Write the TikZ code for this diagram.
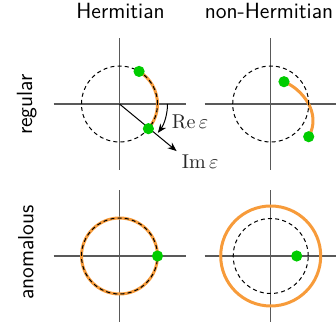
\documentclass[tikz,border=0pt]{standalone}
\usepackage{fontspec}
\usetikzlibrary{arrows.meta}
\definecolor{myorange}{RGB}{247,155,58}
\definecolor{mygreen}{RGB}{0,204,0}
\begin{document}
\begin{tikzpicture}[x=0.5pt,y=0.5pt,
  axis/.style={draw=black!65, line width=0.6pt},
  dcirc/.style={draw=black, dash pattern=on 2pt off 1.6pt, line width=0.5pt},
  orng/.style={draw=myorange, line width=1.5pt},
  gdot/.style={circle, fill=mygreen, inner sep=0pt, minimum size=5.6pt},
  lab/.style={font=\sffamily\fontsize{11}{13}\selectfont, inner sep=0pt},
  mlab/.style={text=black!85, inner sep=0pt, anchor=west},
  arr/.style={draw=black, line width=0.5pt, -{Stealth[length=4.5pt,width=3.6pt]}}]
\useasboundingbox (0,0) rectangle (336,325);
% centres
\coordinate (TL) at (119.5,221);
\coordinate (TR) at (270.7,221);
\coordinate (BL) at (119.5,69);
\coordinate (BR) at (270.7,69);
% axes
\foreach \c in {TL,TR,BL,BR}{
  \draw[axis] ([xshift=-33pt]\c) -- ([xshift=33pt]\c);
  \draw[axis] ([yshift=-33pt]\c) -- ([yshift=33pt]\c);
}
% titles
\node[lab, anchor=base] (h) at (120.5,306.7) {Hermitian};
\node[lab, anchor=base] (nh) at (269,306.7) {non-Hermitian};
\node[lab, anchor=base, rotate=90] (reg) at (32,220.5) {regular};
\node[lab, anchor=base, rotate=90] (ano) at (33.3,72.5) {anomalous};
% TL: Hermitian regular
\draw[orng] ([shift={(59:38)}]TL) arc[start angle=59, end angle=-40.5, radius=38];
\draw[dcirc] (TL) circle[radius=38];
\draw[arr] (TL) -- ++(-39.5:74) coordinate (imend);
\draw[arr] ([shift={(0:48)}]TL) arc[start angle=0, end angle=-37, radius=48] coordinate (reend);
\node[gdot] (d1) at ([shift={(59:38)}]TL) {};
\node[gdot] (d2) at ([shift={(-40.5:38)}]TL) {};
\node[mlab] (re) at (171.5,203.3) {$\mathrm{Re}\,\varepsilon$};
\node[mlab] (im) at (181.5,163.3) {$\mathrm{Im}\,\varepsilon$};
% TR: non-Hermitian regular
\draw[orng] (284,243.3) .. controls (302,236) and (322,212) .. (308.7,188.3);
\draw[dcirc] (TR) circle[radius=38];
\node[gdot] (d3) at (284,243.3) {};
\node[gdot] (d4) at (308.7,188.3) {};
% BL: Hermitian anomalous
\draw[orng] (BL) circle[radius=38];
\draw[dcirc] (BL) circle[radius=38];
\node[gdot] (d5) at ([shift={(0:38)}]BL) {};
% BR: non-Hermitian anomalous
\draw[orng] (BR) circle[radius=50];
\draw[dcirc] (BR) circle[radius=37.5];
\node[gdot] (d6) at ([shift={(0:26)}]BR) {};
\end{tikzpicture}
\end{document}
